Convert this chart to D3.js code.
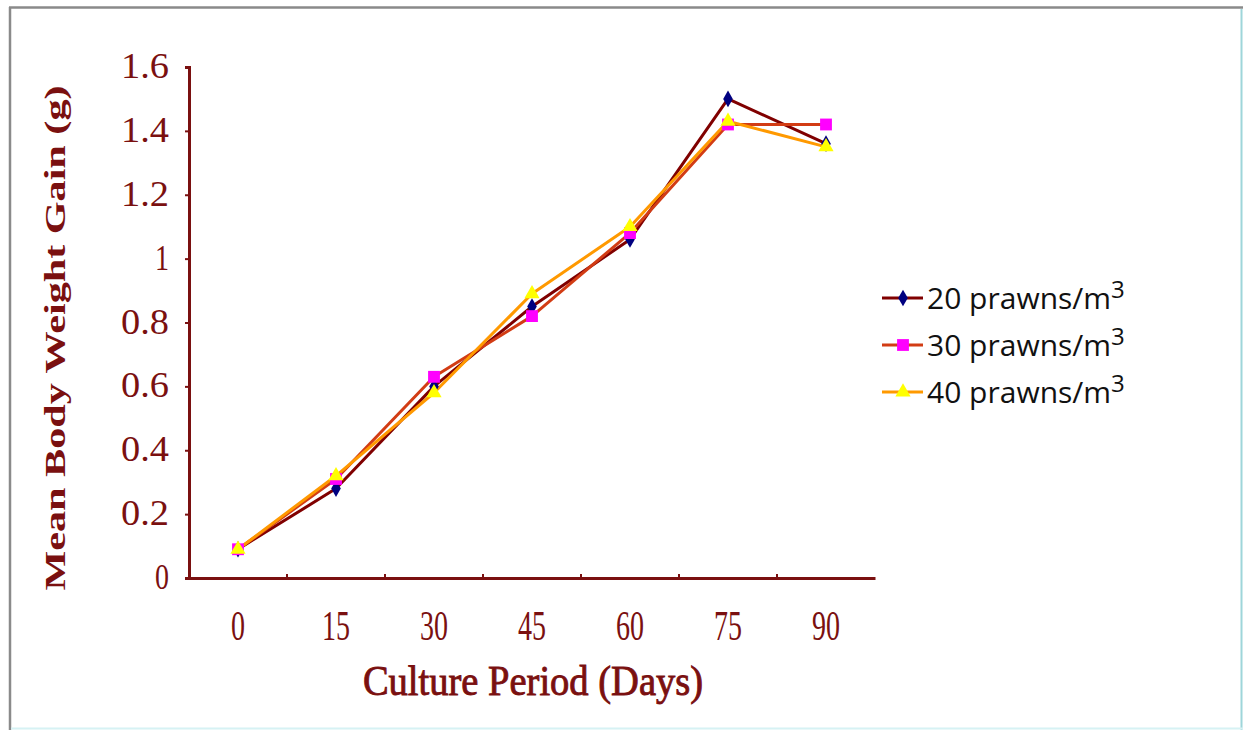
<!DOCTYPE html>
<html>
<head>
<meta charset="utf-8">
<script src="https://cdn.jsdelivr.net/npm/d3@7"></script>
<style>
  html, body { margin: 0; padding: 0; background: #ffffff; }
  svg { display: block; }
</style>
</head>
<body>
<svg id="chart" width="1243" height="730"></svg>
<script>
// Culture period (days) on the category axis
const days = ["0", "15", "30", "45", "60", "75", "90"];

// Mean body weight gain (g) per stocking density
const gain20 = [0.09, 0.28, 0.60, 0.85, 1.06, 1.50, 1.36];
const gain30 = [0.09, 0.31, 0.63, 0.82, 1.08, 1.42, 1.42];
const gain40 = [0.09, 0.32, 0.58, 0.89, 1.10, 1.43, 1.35];

const seriesNames = ["20 prawns/m", "30 prawns/m", "40 prawns/m"];
const yTicks = [0, 0.2, 0.4, 0.6, 0.8, 1.0, 1.2, 1.4, 1.6];

const series = [
  { name: seriesNames[0], values: gain20, line: "#800000", fill: "#000080", symbol: d3.symbolDiamond, size: 80 },
  { name: seriesNames[1], values: gain30, line: "#d23c14", fill: "#ff00ff", symbol: d3.symbolSquare, size: 140 },
  { name: seriesNames[2], values: gain40, line: "#ff9900", fill: "#ffff00", symbol: d3.symbolTriangle, size: 100 }
];

const svg = d3.select("#chart");
const axisColor = "#7a1010";
const serif = "'Liberation Serif', 'Times New Roman', serif";

// outer frame
svg.append("line").attr("x1", 9).attr("x2", 1243).attr("y1", 7.5).attr("y2", 7.5)
  .attr("stroke", "#8a8a8a").attr("stroke-width", 2.5);
svg.append("line").attr("x1", 10).attr("x2", 10).attr("y1", 7).attr("y2", 730)
  .attr("stroke", "#8a8a8a").attr("stroke-width", 2.5);
svg.append("line").attr("x1", 1241.5).attr("x2", 1241.5).attr("y1", 9).attr("y2", 730)
  .attr("stroke", "#9ed6da").attr("stroke-width", 2);
svg.append("line").attr("x1", 11).attr("x2", 1243).attr("y1", 728.5).attr("y2", 728.5)
  .attr("stroke", "#d6f2f4").attr("stroke-width", 2);

const plot = { left: 189, right: 875, top: 67, bottom: 578 };

const x = d3.scaleBand().domain(days).range([plot.left, plot.right]);
const y = d3.scaleLinear().domain([0, 1.6]).range([plot.bottom, plot.top]);

// serif text squeezed to a fixed width per character
function fixedText(g, txt, px, py, size, anchor, charW, strokeW) {
  const t = g.append("text")
    .attr("x", px).attr("y", py)
    .attr("text-anchor", anchor)
    .attr("font-family", serif)
    .attr("font-size", size)
    .attr("fill", axisColor)
    .attr("textLength", txt.length * charW)
    .attr("lengthAdjust", "spacingAndGlyphs")
    .text(txt);
  if (strokeW) t.attr("stroke", axisColor).attr("stroke-width", strokeW);
  return t;
}

// y axis
const yAxis = svg.append("g").attr("transform", `translate(${plot.left},0)`)
  .call(d3.axisLeft(y).tickValues(yTicks).tickSize(4).tickFormat(""));
yAxis.select(".domain").attr("stroke", axisColor).attr("stroke-width", 3);
yAxis.selectAll(".tick line").attr("stroke", axisColor).attr("stroke-width", 2);

const yLab = svg.append("g");
yTicks.forEach(v => {
  const s = d3.format("~g")(v);
  fixedText(yLab, s, 169, y(v) + 11, 36, "end", s.length === 1 ? 14 : 16);
});

// x axis with tick marks between categories
const xAxis = svg.append("g").attr("transform", `translate(0,${plot.bottom})`)
  .call(d3.axisBottom(x).tickSize(0).tickFormat(""));
xAxis.select(".domain").attr("stroke", axisColor).attr("stroke-width", 3);
days.slice(1).forEach(d => {
  svg.append("line")
    .attr("x1", x(d)).attr("x2", x(d))
    .attr("y1", plot.bottom - 4).attr("y2", plot.bottom)
    .attr("stroke", axisColor).attr("stroke-width", 2);
});

const xLab = svg.append("g");
days.forEach(d => {
  fixedText(xLab, d, x(d) + x.bandwidth() / 2, 640, 42, "middle", 14);
});

// axis titles
fixedText(svg, "Culture Period (Days)", 533, 695, 42, "middle", 16.2, 0.9);
svg.append("text")
  .attr("transform", "translate(65,338) rotate(-90)")
  .attr("text-anchor", "middle")
  .attr("font-family", serif)
  .attr("font-size", 30)
  .attr("font-weight", "bold")
  .attr("fill", axisColor)
  .attr("textLength", 505)
  .attr("lengthAdjust", "spacingAndGlyphs")
  .text("Mean Body Weight Gain (g)");

// series lines and markers
const line = d3.line()
  .x((d, i) => x(days[i]) + x.bandwidth() / 2)
  .y(d => y(d));

series.forEach(s => {
  svg.append("path")
    .datum(s.values)
    .attr("d", line)
    .attr("fill", "none")
    .attr("stroke", s.line)
    .attr("stroke-width", 3)
    .attr("stroke-linejoin", "round");
});
series.forEach(s => {
  svg.append("g").selectAll("path")
    .data(s.values)
    .join("path")
    .attr("transform", (d, i) => `translate(${x(days[i]) + x.bandwidth() / 2},${y(d)})`)
    .attr("d", d3.symbol().type(s.symbol).size(s.size))
    .attr("fill", s.fill);
});

// legend
const legend = svg.append("g");
series.forEach((s, i) => {
  const cy = 298 + i * 47;
  legend.append("line")
    .attr("x1", 882).attr("x2", 923).attr("y1", cy).attr("y2", cy)
    .attr("stroke", s.line).attr("stroke-width", 3);
  legend.append("path")
    .attr("transform", `translate(903,${cy})`)
    .attr("d", d3.symbol().type(s.symbol).size(s.size))
    .attr("fill", s.fill);
  const t = legend.append("text")
    .attr("x", 927).attr("y", cy + 11)
    .attr("font-family", "'Open Sans', 'Noto Sans', sans-serif")
    .attr("font-size", 30)
    .attr("fill", "#111111")
    .text(s.name);
  t.append("tspan")
    .attr("dy", -11)
    .attr("font-size", 24)
    .text("3");
});
</script>
</body>
</html>
